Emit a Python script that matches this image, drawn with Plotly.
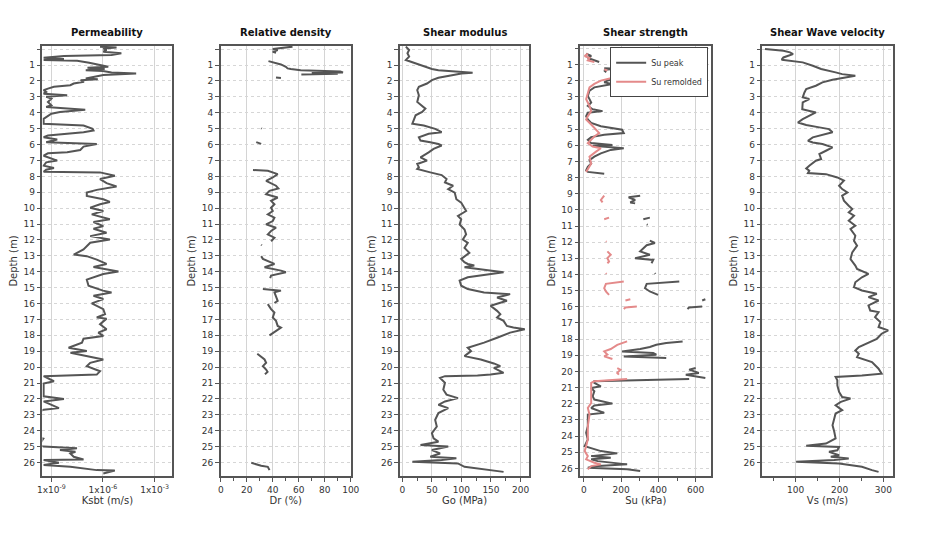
import plotly.graph_objects as go

# ---------------- data ----------------
titles = ["Permeability", "Relative density", "Shear modulus", "Shear strength", "Shear Wave velocity"]
x_titles = ["Ksbt (m/s)", "Dr (%)", "Go (MPa)", "Su (kPa)", "Vs (m/s)"]
depth_ticks = list(range(1, 27))
perm_tickvals = [1e-9, 1e-6, 1e-3]
perm_ticktext = ["1x10<sup>-9</sup>", "1x10<sup>-6</sup>", "1x10<sup>-3</sup>"]

# Permeability: depth (m) and log10(Ksbt)
perm_depth = [-0.16, -0.10, -0.05, 0.05, 0.16, 0.26, 0.37, 0.43, 0.54, 0.62, 0.68, 0.73, 0.85, 1.0, 1.11,
              1.17, 1.25, 1.32, 1.38, 1.46, 1.53, 1.63, 1.74, 1.84, 1.89, 1.95, 2.05, 2.16, 2.27, 2.37,
              2.48, 2.58, 2.69, 2.80, 2.90, 3.0, 3.11, 3.32, 3.53, 3.64, 3.81, 3.95, 4.06, 4.38, 4.69,
              4.80, 5.01, 5.11, 5.22, 5.32, 5.43, 5.54, 5.68, 5.85, 5.96, 6.13, 6.34, 6.49, 6.55, 6.70,
              7.01, 7.12, 7.33, 7.48, 7.58, 7.71, 7.75, 7.96, 8.17, 8.43, 8.64, 8.85, 9.02, 9.23, 9.44,
              9.61, 9.76, 9.97, 10.18, 10.39, 10.70, 10.87, 11.13, 11.30, 11.55, 11.76, 11.97, 12.18,
              12.39, 12.60, 12.92, 13.02, 13.24, 13.51, 13.70, 13.82, 13.99, 14.14, 14.50, 14.88, 15.19,
              15.30, 15.51, 15.72, 15.99, 16.35, 16.67, 16.88, 16.95, 17.30, 17.62, 17.83, 18.04, 18.21,
              18.46, 18.78, 18.99, 19.10, 19.31, 19.52, 19.73, 19.94, 20.26, 20.47, 20.57, 20.89, 21.04,
              21.84, 22.01, 22.16, 22.58, 22.68, 22.80, 24.45, 24.50, 24.90, 25.0, 25.11, 25.22, 25.32,
              25.43, 25.64, 25.81, 25.85, 26.02, 26.16, 26.27, 26.48, 26.50, 26.69]
perm_log10 = [-6.17, -5.21, -5.98, -5.79, -5.98, -4.93, -5.5, -8.27, -9.45, -8.27, -9.45, -7.5, -6.8, -6.17, -5.69,
              -6.9, -5.9, -7.0, -6.0, -5.5, -4.07, -5.98, -6.5, -7.0, -6.3, -7.3, -7.1, -7.7, -7.9, -8.85,
              -9.2, -9.45, -9.3, -9.45, -8.08, -9.3, -9.0, -9.2, -9.0, -9.3, -7.03, -8.5, -9.0, -9.45, -9.45,
              -7.13, -6.6, -6.55, -7.13, -8.27, -9.2, -9.45, -8.66, -9.3, -6.36, -7.13, -7.32, -8.08, -9.2, -9.45,
              -8.66, -9.3, -9.45, -8.85, -9.3, -9.45, -6.17, -5.31, -6.17, -5.79, -5.21, -6.36, -6.94, -6.94, -5.98,
              -5.6, -6.17, -6.74, -5.98, -6.65, -5.6, -6.55, -5.98, -6.55, -5.79, -6.74, -5.6, -6.74,
              -6.94, -7.13, -7.7, -6.94, -6.36, -5.79, -6.55, -6.0, -5.1, -5.98, -6.94, -6.84, -6.0,
              -5.5, -6.55, -5.98, -6.65, -5.98, -5.88, -6.36, -5.79, -6.17, -5.79, -6.27, -5.98, -7.13,
              -7.22, -8.0, -6.94, -7.89, -6.94, -5.98, -6.74, -6.94, -6.17, -6.36, -9.45, -8.85, -9.45,
              -9.45, -8.27, -9.45, -8.56, -9.45, -9.7, -9.7, -9.47, -9.7, -9.45, -7.51, -8.5, -7.6,
              -7.9, -7.7, -7.13, -9.45, -8.56, -9.45, -7.9, -6.36, -5.31, -5.98]
perm_k = [10 ** v for v in perm_log10]

# Relative density Dr (%), None separates the pieces
dr_depth = [-0.16, -0.01, 0.05, 0.16, 0.22, None,
            0.75, 0.83, 0.96, 1.11, 1.21, 1.25, 1.32, 1.40, 1.46, 1.50, 1.55, 1.60, None,
            1.78, 1.82, None,
            4.97, 5.00, None,
            5.85, 5.96, None,
            7.60, 7.65, 7.86, 8.07, 8.28, 8.59, 8.76, 8.91, 9.12, 9.33, 9.54, 9.76, 9.97, 10.18, 10.39,
            10.60, 10.81, 11.02, 11.23, 11.44, 11.65, 11.86, 12.08, None,
            12.30, 12.34, None,
            13.02, 13.19, 13.51, 13.72, 13.93, 14.03, 14.24, 14.40, None,
            15.09, 15.19, 15.30, 15.62, 15.83, 15.97, None,
            16.04, 16.35, 16.57, 16.88, 17.09, 17.41, 17.51, 17.73, 18.00, None,
            19.16, 19.52, 19.73, 19.94, 20.15, 20.30, 20.45, None,
            26.02, 26.20, 26.27, 26.48]
dr_value = [55.2, 40.0, 43.8, 40.0, 42.5, None,
            36.7, 41.3, 46.3, 50.1, 51.4, 53.9, 61.5, 92.0, 94.0, 70.0, 90.0, 62.0, None,
            42.5, 46.3, None,
            31.1, 31.6, None,
            27.3, 31.1, None,
            24.8, 36.2, 43.8, 40.0, 34.9, 42.5, 44.3, 37.5, 34.9, 43.8, 38.7, 41.3, 38.7, 40.0, 36.2,
            41.3, 40.0, 34.9, 42.5, 38.7, 36.2, 41.3, 38.7, None,
            31.1, 31.6, None,
            31.1, 32.4, 41.3, 33.7, 46.3, 50.1, 38.7, 38.0, None,
            32.4, 46.3, 41.3, 42.5, 43.8, 41.3, None,
            36.2, 38.7, 41.3, 40.0, 42.5, 43.8, 46.3, 42.5, 37.5, None,
            28.1, 33.7, 34.9, 32.4, 34.9, 36.0, 34.0, None,
            23.5, 31.1, 36.2, 37.5]

# Shear modulus Go (MPa)
go_depth = [-0.16, 0.05, 0.26, 0.47, 0.68, 0.79, 1.0, 1.21, 1.25, 1.32, 1.38, 1.45, 1.49, 1.53, 1.63, 1.80,
            1.95, 2.16, 2.37, 2.58, 2.90, 3.32, 3.74, 3.95, 4.16, 4.48, 4.69, 4.80, 5.01, 5.22, 5.32, 5.54,
            5.75, 5.85, 5.96, 6.06, 6.27, 6.49, 6.80, 7.01, 7.22, 7.43, 7.54, 7.75, 7.92, 8.17, 8.38, 8.59,
            8.81, 9.02, 9.44, 9.65, 9.86, 10.18, 10.49, 10.70, 11.02, 11.34, 11.65, 11.97, 12.18, 12.50,
            12.81, 13.19, 13.40, 13.51, 13.61, 13.72, 14.03, 14.35, 14.56, 14.88, 15.09, 15.30, 15.41,
            15.62, 15.83, 16.14, 16.46, 16.67, 16.88, 17.09, 17.41, 17.51, 17.62, 17.83, 18.15, 18.46,
            18.78, 18.99, 19.31, 19.52, 19.77, 19.94, 20.05, 20.36, 20.47, 20.53, 20.57, 20.68, 20.99,
            21.42, 21.73, 21.95, 22.16, 22.37, 22.58, 22.89, 23.32, 23.74, 24.16, 24.48, 24.69, 24.90,
            25.0, 25.22, 25.43, 25.64, 25.74, 25.85, 25.95, 26.06, 26.27, 26.48, 26.59]
go_value = [5.9, 11.4, 8.6, 11.4, 5.9, 14.1, 27.9, 44.5, 50.0, 61.0, 77.6, 105.0, 118.9, 100.0, 83.1, 61.0,
            50.0, 41.7, 27.9, 25.2, 27.9, 25.2, 39.0, 33.5, 22.4, 19.7, 16.9, 36.2, 55.5, 66.5, 44.5, 27.9,
            30.7, 47.2, 61.0, 66.5, 52.8, 44.5, 30.7, 41.7, 25.2, 27.9, 25.2, 47.2, 66.5, 74.8, 72.1, 85.9,
            77.6, 88.6, 91.4, 99.6, 102.4, 107.9, 94.1, 99.6, 96.9, 105.2, 107.9, 102.4, 110.7, 105.2,
            113.4, 99.6, 105.0, 110.7, 121.7, 105.2, 171.3, 110.7, 96.9, 99.6, 110.7, 138.3, 182.4,
            160.3, 176.9, 149.3, 160.3, 165.8, 160.3, 171.3, 176.9, 187.9, 207.2, 182.4, 160.3, 138.3,
            110.7, 116.2, 105.2, 132.7, 154.8, 165.8, 154.8, 171.3, 149.3, 127.2, 72.1, 63.8, 72.1,
            69.3, 74.8, 94.1, 72.1, 61.0, 77.6, 61.0, 55.5, 58.3, 50.0, 52.8, 61.0, 30.7,
            77.6, 50.0, 63.8, 47.2, 91.4, 66.5, 16.9, 94.1, 105.2, 149.3, 171.3]

# Shear strength Su (kPa): peak and remolded, None separates the pieces
su_peak_depth = [0.33, 0.48, 0.60, 0.75, 0.85, None,
                 1.23, 1.27, 1.31, 1.38, 1.48, None,
                 1.73, 1.86, 2.0, 2.11, 2.21, 2.32, 2.42, 2.63, 2.95, 3.15, 3.36, 3.57, 3.78, 3.89, 3.99,
                 4.20, 4.41, 4.62, 4.83, 5.04, 5.25, 5.35, 5.50, 5.67, 5.87, 5.98, 6.04, 6.19, 6.29, 6.50,
                 6.71, 6.92, 7.13, 7.34, 7.55, 7.65, 7.76, None,
                 9.12, 9.22, 9.39, 9.54, 9.60, None,
                 10.48, 10.58, None,
                 10.90, 10.93, None,
                 11.90, 12.05, 12.19, 12.36, 12.57, 12.78, 12.99, 13.10, 13.30, None,
                 13.92, 13.96, None,
                 14.44, 14.58, 14.85, 15.05, 15.26, None,
                 15.53, 15.61, None,
                 15.98, 16.04, 16.14, None,
                 18.14, 18.24, 18.35, 18.49, 18.61, 18.76, 18.86, 18.96, 19.07, 19.17, None,
                 19.79, 19.89, 20.09, 20.20, 20.40, None,
                 20.47, 20.52, 20.56, 20.61, 20.71, 20.92, 21.02, 21.23, 21.53, 21.74, 21.99, 22.11,
                 22.26, 22.56, 22.67, 22.98, 23.39, 23.80, 24.21, 24.62, 24.93, 25.07, 25.24, 25.34,
                 25.44, 25.55, 25.75, 25.86, 25.96, 26.06, 26.16]
su_peak_value = [12, 39, 21, 65, 82, None,
                 109, 179, 126, 109, 120, None,
                 337, 196, 126, 109, 153, 109, 56, 30, 21, 30, 39, 21, 47, 100, 21,
                 12, 21, 39, 91, 205, 214, 109, 39, 21, 39, 153, 47, 214, 144, 91,
                 56, 30, 39, 21, 12, 21, 109, None,
                 302, 240, 275, 249, 275, None,
                 354, 319, None,
                 337, 342, None,
                 354, 381, 337, 319, 302, 354, 275, 372, 363, None,
                 381, 384, None,
                 512, 337, 328, 354, 398, None,
                 652, 635, None,
                 635, 565, 556, None,
                 530, 442, 389, 354, 302, 205, 372, 389, 214, 442, None,
                 600, 565, 617, 547, 652, None,
                 565, 300, 100, 56, 56, 91, 39, 56, 47, 56, 153, 56,
                 39, 109, 21, 21, 21, 12, 21, 4, 91, 179, 39, 144,
                 39, 74, 232, 56, 21, 232, 302]

su_rem_depth = [0.33, 0.48, 0.60, 0.75, 0.85, None,
                1.31, 1.38, None,
                1.73, 1.86, 2.0, 2.21, 2.42, 2.74, 3.15, 3.57, 3.89, 4.20, 4.41, 4.72, 5.04, 5.25, 5.46,
                5.67, 5.87, 6.08, 6.19, 6.40, 6.71, 7.13, 7.44, 7.65, None,
                9.12, 9.39, 9.54, None,
                10.48, 10.58, None,
                11.94, 11.97, None,
                12.57, 12.78, 12.99, 13.20, 13.30, None,
                13.92, 13.96, None,
                14.44, 14.58, 14.85, 15.05, 15.26, None,
                15.53, 15.61, None,
                15.98, 16.04, 16.14, None,
                18.14, 18.35, 18.61, 18.76, 18.96, 19.07, 19.23, None,
                19.79, 19.89, 20.09, 20.20, None,
                20.47, 20.55, 20.61, 20.71, 20.92, 21.53, 21.95, 22.26, 22.67, 23.39, 24.21, 24.62,
                24.93, 25.24, 25.44, 25.65, 25.75, 25.86, 26.06]
su_rem_value = [21, 4, 30, 21, 56, None,
                109, 126, None,
                179, 144, 91, 56, 30, 21, 12, 30, 39, 21, 12, 39, 65, 82, 56,
                39, 21, 47, 91, 65, 30, 39, 21, 12, None,
                109, 91, 100, None,
                135, 109, None,
                118, 121, None,
                126, 144, 126, 135, 126, None,
                118, 121, None,
                214, 118, 109, 118, 135, None,
                249, 223, None,
                284, 223, 214, None,
                232, 179, 144, 109, 126, 109, 153, None,
                179, 196, 179, 188, None,
                232, 126, 56, 39, 39, 39, 39, 21, 30, 21, 21, 12,
                4, 21, 12, 56, 91, 39, 21]

# Shear wave velocity Vs (m/s)
vs_depth = [-0.01, 0.04, 0.10, 0.20, 0.31, 0.41, 0.52, 0.66, 0.73, 0.83, 1.04, 1.25, 1.46, 1.57, 1.67, 1.78,
            1.92, 2.09, 2.30, 2.51, 2.72, 3.03, 3.14, 3.35, 3.77, 3.98, 4.19, 4.40, 4.61, 4.77, 4.92, 5.03,
            5.23, 5.40, 5.55, 5.76, 5.87, 5.97, 6.18, 6.39, 6.60, 6.91, 7.02, 7.33, 7.50, 7.65, 7.79, 7.86,
            8.07, 8.27, 8.59, 8.80, 9.01, 9.22, 9.53, 9.85, 10.06, 10.27, 10.48, 10.79, 11.10, 11.31, 11.73,
            12.05, 12.36, 12.78, 13.20, 13.61, 13.82, 14.14, 14.35, 14.66, 14.97, 15.18, 15.39, 15.60,
            15.81, 16.12, 16.44, 16.54, 16.86, 17.17, 17.48, 17.69, 17.90, 18.22, 18.53, 18.74, 18.95,
            19.16, 19.37, 19.47, 19.68, 20.10, 20.41, 20.52, 20.62, 20.83, 21.15, 21.56, 21.88, 21.98,
            22.19, 22.40, 22.71, 22.92, 23.24, 23.66, 24.07, 24.49, 24.81, 24.95, 25.02, 25.23, 25.33,
            25.54, 25.64, 25.75, 25.85, 25.96, 26.06, 26.27, 26.48, 26.59]
vs_value = [30, 49, 72, 87, 94, 83, 72, 68, 87, 116, 139, 158, 191, 206, 236, 214,
            184, 161, 146, 124, 120, 116, 131, 116, 115, 146, 131, 116, 105, 124, 154, 176,
            184, 161, 139, 128, 139, 161, 184, 169, 154, 158, 146, 131, 124, 131, 128, 169,
            195, 210, 199, 206, 218, 206, 210, 221, 229, 221, 233, 221, 236, 225, 236,
            233, 240, 229, 225, 236, 240, 266, 251, 236, 233, 251, 285, 266,
            289, 266, 270, 289, 281, 293, 289, 311, 296, 285, 259, 244, 236,
            244, 240, 251, 274, 289, 296, 251, 191, 195, 195, 199, 206, 225,
            203, 191, 206, 191, 188, 184, 188, 191, 169, 124, 199, 195, 176,
            199, 180, 221, 188, 101, 199, 251, 274, 289]

# ---------------- figure ----------------
DARK = "#555555"
PINK = "#e48a8a"
FONT = "DejaVu Sans"

fig = go.Figure()
fig.add_trace(go.Scatter(x=perm_k, y=perm_depth, mode="lines", line=dict(color=DARK, width=2),
                         showlegend=False, xaxis="x", yaxis="y"))
fig.add_trace(go.Scatter(x=dr_value, y=dr_depth, mode="lines", line=dict(color=DARK, width=2),
                         showlegend=False, connectgaps=False, xaxis="x2", yaxis="y2"))
fig.add_trace(go.Scatter(x=go_value, y=go_depth, mode="lines", line=dict(color=DARK, width=2),
                         showlegend=False, xaxis="x3", yaxis="y3"))
fig.add_trace(go.Scatter(x=su_peak_value, y=su_peak_depth, mode="lines", name="Su peak",
                         line=dict(color=DARK, width=2), connectgaps=False, xaxis="x4", yaxis="y4"))
fig.add_trace(go.Scatter(x=su_rem_value, y=su_rem_depth, mode="lines", name="Su remolded",
                         line=dict(color=PINK, width=2), connectgaps=False, xaxis="x4", yaxis="y4"))
fig.add_trace(go.Scatter(x=vs_value, y=vs_depth, mode="lines", line=dict(color=DARK, width=2),
                         showlegend=False, xaxis="x5", yaxis="y5"))

domains = [(0.0405, 0.1812), (0.2335, 0.3742), (0.4275, 0.5672), (0.6226, 0.7644), (0.8198, 0.9606)]
x_ranges = [None, [0, 100], [-4, 214.5], [-19.5, 684], [24.3, 321]]
x_dticks = [None, 20, 50, 200, 100]
x_minor = [None, 10, 25, 100, 50]
y_ranges = [[26.85, -0.2], [26.85, -0.2], [26.85, -0.2], [26.47, -0.14], [26.85, -0.2]]

tickfont = dict(family=FONT, size=9, color="#333333")
titlefont = dict(family=FONT, size=10, color="#333333")

layout = dict(
    width=938, height=540,
    margin=dict(l=0, r=0, t=46, b=64),
    paper_bgcolor="white", plot_bgcolor="white",
    font=dict(family=FONT, color="#333333"),
    legend=dict(x=0.761, y=0.997, xanchor="right", yanchor="top", bgcolor="white",
                bordercolor="#444444", borderwidth=1, font=dict(family=FONT, size=8, color="#333333"),
                tracegroupgap=0, itemwidth=30),
    annotations=[],
)

for i in range(5):
    sx = "" if i == 0 else str(i + 1)
    xa = dict(domain=list(domains[i]), anchor="y" + sx, showline=True, mirror=True,
              linecolor="#555555", linewidth=1.5, ticks="outside", ticklen=4, tickcolor="#555555",
              tickfont=tickfont, showgrid=True, gridcolor="#d4d4d4", gridwidth=1, zeroline=False,
              title=dict(text=x_titles[i], font=titlefont, standoff=2))
    if i == 0:
        xa.update(type="log", range=[-9.52, -1.96], tickvals=perm_tickvals, ticktext=perm_ticktext)
    else:
        xa.update(range=x_ranges[i], dtick=x_dticks[i], tick0=0,
                  minor=dict(dtick=x_minor[i], tick0=0, ticks="outside", ticklen=3,
                             tickcolor="#555555", showgrid=False))
    ya = dict(domain=[0, 1], anchor="x" + sx, range=y_ranges[i], showline=True, mirror=True,
              linecolor="#555555", linewidth=1.5, ticks="outside", ticklen=4, tickcolor="#555555",
              tickvals=depth_ticks, tickfont=tickfont, showgrid=True,
              gridcolor="#d6d6d6", griddash="dot", gridwidth=1, zeroline=False,
              minor=dict(tickvals=[0], ticks="outside", ticklen=4, tickcolor="#555555",
                         showgrid=True, gridcolor="#d6d6d6", griddash="dot"),
              title=dict(text="Depth (m)", font=titlefont, standoff=4))
    layout["xaxis" + sx] = xa
    layout["yaxis" + sx] = ya
    layout["annotations"].append(dict(text="<b>" + titles[i] + "</b>", xref="paper", yref="paper",
                                      x=(domains[i][0] + domains[i][1]) / 2, y=1, yshift=6,
                                      xanchor="center", yanchor="bottom", showarrow=False,
                                      font=dict(family=FONT, size=10, color="#111111")))

fig.update_layout(**layout)
fig.write_html("out.html")
